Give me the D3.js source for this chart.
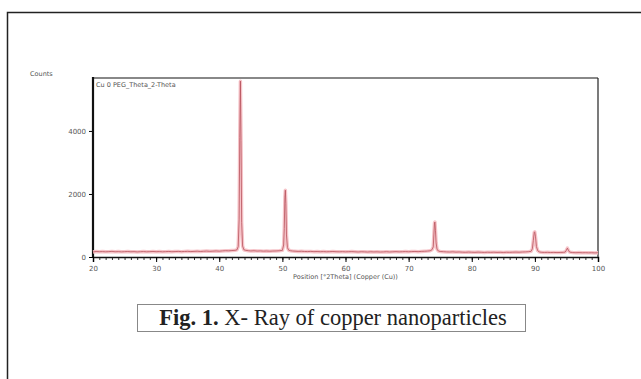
<!DOCTYPE html>
<html>
<head>
<meta charset="utf-8">
<script src="https://cdn.jsdelivr.net/npm/d3@7"></script>
<style>
  body { margin: 0; background: #fff; }
  svg { display: block; }
</style>
</head>
<body>
<div id="chart"></div>
<script>
// diffraction pattern
const twoTheta = [20, 20.5, 21, 21.5, 22, 22.5, 23, 23.5, 24, 24.5, 25, 25.5, 26, 26.5, 27, 27.5, 28, 28.5, 29, 29.5,
  30, 30.5, 31, 31.5, 32, 32.5, 33, 33.5, 34, 34.5, 35, 35.5, 36, 36.5, 37, 37.5, 38, 38.5, 39, 39.5,
  40, 40.5, 41, 41.5, 42, 42.5, 42.8, 43.0, 43.15, 43.25, 43.35, 43.45, 43.55, 43.7, 43.9,
  44.2, 44.6, 45, 45.5, 46, 46.5, 47, 47.5, 48, 48.5, 49, 49.5, 49.8,
  50.0, 50.2, 50.3, 50.4, 50.47, 50.55, 50.65, 50.8, 51.0, 51.3, 51.6,
  52, 52.5, 53, 53.5, 54, 54.5, 55, 55.5, 56, 56.5, 57, 57.5, 58, 58.5, 59, 59.5,
  60, 60.5, 61, 61.5, 62, 62.5, 63, 63.5, 64, 64.5, 65, 65.5, 66, 66.5, 67, 67.5, 68, 68.5, 69, 69.5,
  70, 70.5, 71, 71.5, 72, 72.5, 73, 73.4, 73.7, 73.9, 74.0, 74.1, 74.17, 74.25, 74.35, 74.5, 74.7, 75.0,
  75.5, 76, 76.5, 77, 77.5, 78, 78.5, 79, 79.5, 80, 80.5, 81, 81.5, 82, 82.5, 83, 83.5, 84, 84.5,
  85, 85.5, 86, 86.5, 87, 87.5, 88, 88.5, 89, 89.4, 89.6, 89.75, 89.9, 89.98, 90.1, 90.25, 90.45, 90.7,
  91, 91.5, 92, 92.5, 93, 93.5, 94, 94.5, 94.8, 95.0, 95.15, 95.3, 95.5, 96, 96.5, 97, 97.5, 98, 98.5, 99, 99.5, 100];
const counts = [160, 175, 168, 172, 165, 170, 178, 166, 171, 163, 169, 174, 166, 170, 162, 168, 173, 165, 170, 176,
  168, 172, 165, 170, 176, 168, 172, 178, 170, 175, 180, 172, 178, 184, 176, 182, 188, 180, 186, 192,
  185, 194, 200, 196, 205, 212, 225, 330, 1200, 3800, 5580, 3700, 1100, 350, 230,
  212, 200, 192, 198, 188, 193, 186, 190, 184, 189, 192, 198, 205,
  210, 380, 900, 1900, 2120, 1700, 700, 300, 215, 198, 190,
  185, 178, 182, 175, 172, 178, 170, 174, 168, 172, 166, 170, 175, 168, 165, 170,
  164, 168, 172, 165, 160, 167, 163, 158, 166, 161, 164, 158, 162, 168, 160, 165, 170, 163, 168, 172,
  166, 172, 176, 170, 178, 182, 188, 196, 230, 320, 700, 1080, 1110, 850, 450, 250, 190, 175,
  168, 162, 158, 164, 155, 160, 154, 150, 157, 152, 148, 155, 150, 146, 152, 148, 153, 147, 150,
  145, 151, 148, 153, 156, 152, 158, 162, 168, 180, 260, 520, 780, 800, 640, 330, 200, 162,
  150, 145, 148, 142, 146, 140, 144, 148, 155, 220, 280, 220, 155, 140, 136, 140, 134, 137, 132, 135, 130, 134];
const xTicks = [20, 30, 40, 50, 60, 70, 80, 90, 100];
const yTicks = [0, 2000, 4000];

const width = 641;
const height = 379;
const margin = { top: 78, right: 43, bottom: 122, left: 93 };

const svg = d3.select("#chart")
  .append("svg")
  .attr("width", width)
  .attr("height", height);

// outer page frame, runs off the right and bottom edge
svg.append("rect")
  .attr("x", 7.5)
  .attr("y", 12.5)
  .attr("width", 700)
  .attr("height", 400)
  .attr("fill", "none")
  .attr("stroke", "#222")
  .attr("stroke-width", 1.5);

const data = twoTheta.map((t, i) => ({ t: t, c: counts[i] }));

const xScale = d3.scaleLinear()
  .domain([20, 100])
  .range([margin.left, width - margin.right]);

const yScale = d3.scaleLinear()
  .domain([0, 5680])
  .range([height - margin.bottom, margin.top]);

// x axis with minor ticks every degree
const xMinor = d3.axisBottom(xScale)
  .tickValues(d3.range(20, 101, 1))
  .tickSize(3)
  .tickFormat("");
svg.append("g")
  .attr("transform", `translate(0, ${height - margin.bottom})`)
  .call(xMinor)
  .call(g => g.select(".domain").remove())
  .call(g => g.selectAll("line").attr("stroke", "#333"));

const xAxis = d3.axisBottom(xScale)
  .tickValues(xTicks)
  .tickSize(5)
  .tickPadding(4);
svg.append("g")
  .attr("class", "x-axis")
  .attr("transform", `translate(0, ${height - margin.bottom})`)
  .call(xAxis)
  .call(g => g.select(".domain").attr("stroke", "#111").attr("stroke-width", 1.5))
  .call(g => g.selectAll("text").attr("fill", "#555").attr("font-size", 7).attr("font-family", "DejaVu Sans"));

const yAxis = d3.axisLeft(yScale)
  .tickValues(yTicks)
  .tickFormat(d3.format("d"))
  .tickSize(4)
  .tickPadding(3);
svg.append("g")
  .attr("class", "y-axis")
  .attr("transform", `translate(${margin.left}, 0)`)
  .call(yAxis)
  .call(g => g.select(".domain").remove())
  .call(g => g.selectAll("text").attr("fill", "#555").attr("font-size", 7).attr("font-family", "DejaVu Sans"));

// plot frame
const x0 = margin.left, x1 = width - margin.right;
const y0 = margin.top, y1 = height - margin.bottom;
svg.append("line").attr("x1", x0).attr("x2", x1).attr("y1", y0).attr("y2", y0)
  .attr("stroke", "#888").attr("stroke-width", 2);
svg.append("line").attr("x1", x1).attr("x2", x1).attr("y1", y0).attr("y2", y1)
  .attr("stroke", "#222").attr("stroke-width", 1.2);
svg.append("line").attr("x1", x0).attr("x2", x0).attr("y1", y0 - 1).attr("y2", y1)
  .attr("stroke", "#111").attr("stroke-width", 2.2);

const lineGenerator = d3.line()
  .x(d => xScale(d.t))
  .y(d => yScale(d.c));

svg.append("path")
  .datum(data)
  .attr("fill", "none")
  .attr("stroke", "#f6c4c9")
  .attr("stroke-width", 3.5)
  .attr("stroke-linejoin", "round")
  .attr("d", lineGenerator);

svg.append("path")
  .datum(data)
  .attr("fill", "none")
  .attr("stroke", "#b8525c")
  .attr("stroke-width", 0.8)
  .attr("stroke-linejoin", "round")
  .attr("d", lineGenerator);

// labels
svg.append("text")
  .attr("x", 30)
  .attr("y", 76)
  .attr("font-family", "DejaVu Sans")
  .attr("font-size", 6.5)
  .attr("fill", "#555")
  .text("Counts");

svg.append("text")
  .attr("x", x0 + 3)
  .attr("y", y0 + 9)
  .attr("font-family", "DejaVu Sans")
  .attr("font-size", 6.5)
  .attr("fill", "#555")
  .text("Cu 0 PEG_Theta_2-Theta");

svg.append("text")
  .attr("x", (x0 + x1) / 2)
  .attr("y", 279)
  .attr("text-anchor", "middle")
  .attr("font-family", "DejaVu Sans")
  .attr("font-size", 6.5)
  .attr("fill", "#555")
  .text("Position [°2Theta] (Copper (Cu))");

// caption box
svg.append("rect")
  .attr("x", 137.5)
  .attr("y", 304.5)
  .attr("width", 388)
  .attr("height", 27)
  .attr("fill", "#fff")
  .attr("stroke", "#888")
  .attr("stroke-width", 1);

const caption = svg.append("text")
  .attr("x", 333)
  .attr("y", 325)
  .attr("text-anchor", "middle")
  .attr("font-family", "Liberation Serif")
  .attr("font-size", 22.5)
  .attr("fill", "#222");
caption.append("tspan").attr("font-weight", "bold").text("Fig. 1.");
caption.append("tspan").text(" X- Ray of copper nanoparticles");
</script>
</body>
</html>
